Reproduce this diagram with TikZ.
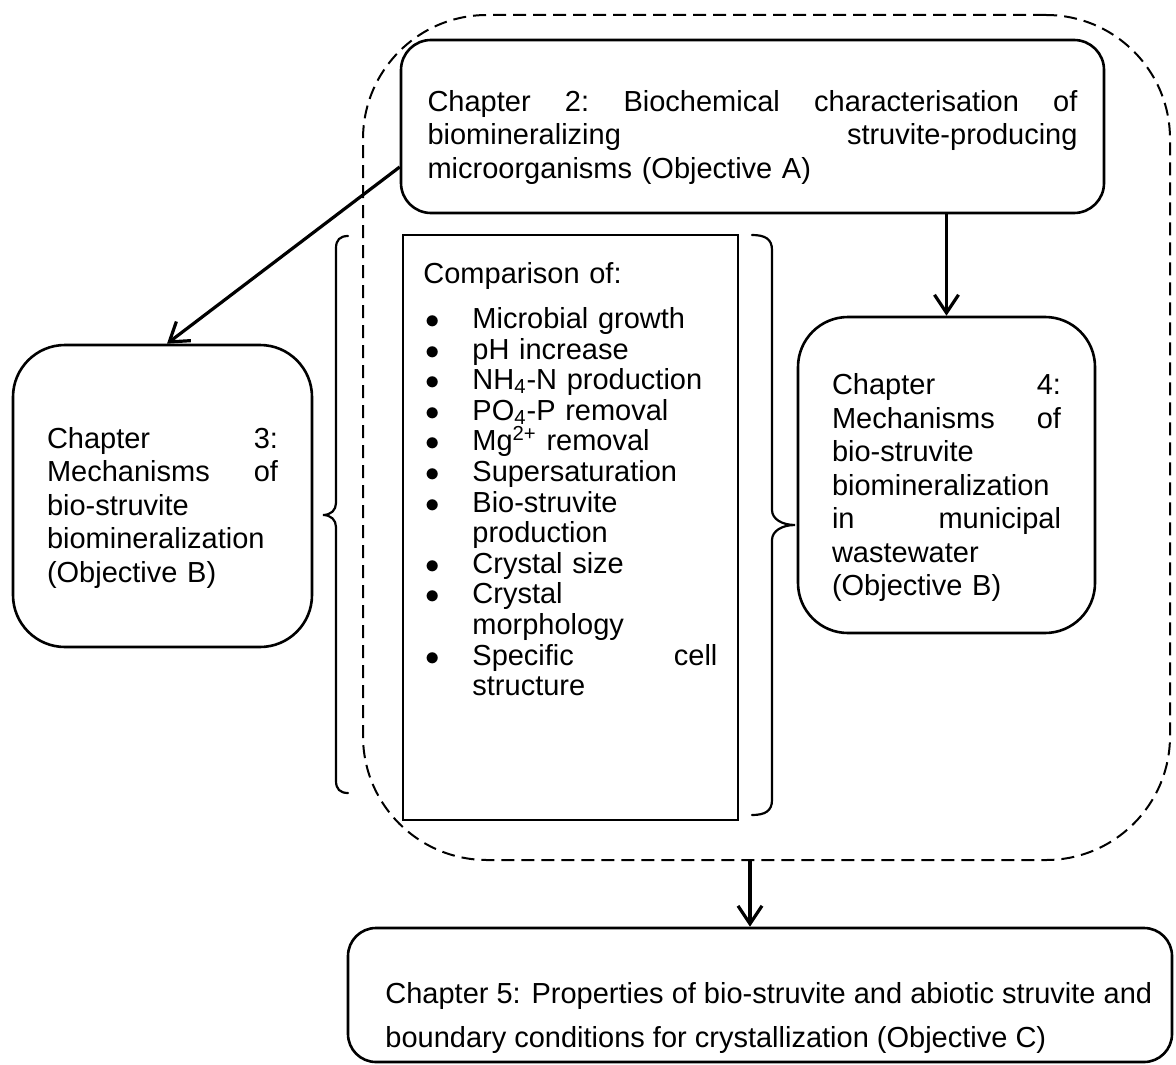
\documentclass[tikz,border=0pt]{standalone}
\usepackage{fontspec}
\setmainfont{Liberation Sans}
\usetikzlibrary{arrows.meta}
\setlength{\parindent}{0pt}
\hyphenpenalty=10000
\exhyphenpenalty=10000
\newcommand{\lstitem}{\hspace*{1pt}\makebox[23.5pt][l]{$\bullet$}}
\newcommand{\lstcont}{\hspace*{24.5pt}}
\begin{document}
\begin{tikzpicture}[x=0.5pt, y=-0.5pt,
    chbox/.style={draw, line width=1.3pt, inner sep=0pt},
    chtext/.style={align=left, inner sep=0pt, font=\fontsize{14.5}{16.75}\selectfont},
    flow/.style={-{Straight Barb[length=9pt,width=12pt]}, line width=1.6pt},
    brace/.style={line width=1.1pt, line cap=round}]
\useasboundingbox (0,0) rectangle (1176,1064);

% dashed frame
\node[draw, dash pattern=on 6.5pt off 3.5pt, line width=1pt, rounded corners=62pt,
  minimum width=403.5pt, minimum height=422.5pt, inner sep=0pt] (frame) at (766.5,437.5) {};

% chapter boxes
\node[chbox, rounded corners=15pt, minimum width=351.5pt, minimum height=86.5pt] (ch2) at (752.5,126.5) {};
\node[chtext, text width=325pt] (ch2text) at ([yshift=-5.5pt]ch2.center)
  {Chapter\hfill 2:\hfill Biochemical\hfill characterisation\hfill of\\
   biomineralizing\hfill struvite-producing\\
   microorganisms (Objective A)};

\node[chbox, rounded corners=26pt, minimum width=149.5pt, minimum height=151pt] (ch3) at (162.5,496) {};
\node[chtext, text width=115.5pt] (ch3text) at ([yshift=-5.75pt]ch3.center)
  {Chapter\hfill 3:\\ Mechanisms\hfill of\\ bio-struvite\\ biomineralization\\ (Objective B)};

\node[chbox, rounded corners=25pt, minimum width=148.5pt, minimum height=158pt] (ch4) at (946.5,475) {};
\node[chtext, text width=114.5pt] (ch4text) at ([yshift=-6.25pt]ch4.center)
  {Chapter\hfill 4:\\ Mechanisms\hfill of\\ bio-struvite\\ biomineralization\\
   in\hfill municipal\\ wastewater\\ (Objective B)};

\node[chbox, rounded corners=14pt, minimum width=412pt, minimum height=67pt] (ch5) at (760,995) {};
\node[chtext, anchor=west, font=\fontsize{14.5}{22}\selectfont] (ch5text) at (385,1017.5)
  {Chapter 5: Properties of bio-struvite and abiotic struvite and\\
   boundary conditions for crystallization (Objective C)};

% comparison list
\node[chbox, minimum width=167.5pt, minimum height=292.5pt] (cmp) at (570.5,527.5) {};
\node[chtext, text width=147pt, anchor=north west, font=\fontsize{14.5}{15.3}\selectfont] (cmptext) at (423,262)
  {Comparison of:\\[7.2pt]
   \lstitem Microbial growth\\
   \lstitem pH increase\\
   \lstitem NH\textsubscript{4}-N production\\
   \lstitem PO\textsubscript{4}-P removal\\
   \lstitem Mg\textsuperscript{2+} removal\\
   \lstitem Supersaturation\\
   \lstitem Bio-struvite\\
   \lstcont production\\
   \lstitem Crystal size\\
   \lstitem Crystal\\
   \lstcont morphology\\
   \lstitem Specific\hfill cell\\
   \lstcont structure};

% braces
\draw[brace] (348,236) .. controls (340,236) and (336,240) .. (336,248) -- (336,503)
  .. controls (336,510) and (331,515) .. (323,515) .. controls (331,515) and (336,520) .. (336,527)
  -- (336,781) .. controls (336,789) and (340,793) .. (348,793);
\draw[brace] (752,235) .. controls (765,235) and (772,239) .. (772,250) -- (772,510)
  .. controls (772,519) and (782,525) .. (795,525) .. controls (782,525) and (772,531) .. (772,540)
  -- (772,800) .. controls (772,811) and (765,815) .. (752,815);

% arrows
\coordinate (c5in) at (750,0);
\draw[flow] ([yshift=-20.25pt]ch2.west) -- ([xshift=2.25pt]ch3.north);
\draw[flow] (ch2.south -| ch4.north) -- (ch4.north);
\draw[flow] (frame.south -| c5in) -- (ch5.north -| c5in);
\end{tikzpicture}
\end{document}
